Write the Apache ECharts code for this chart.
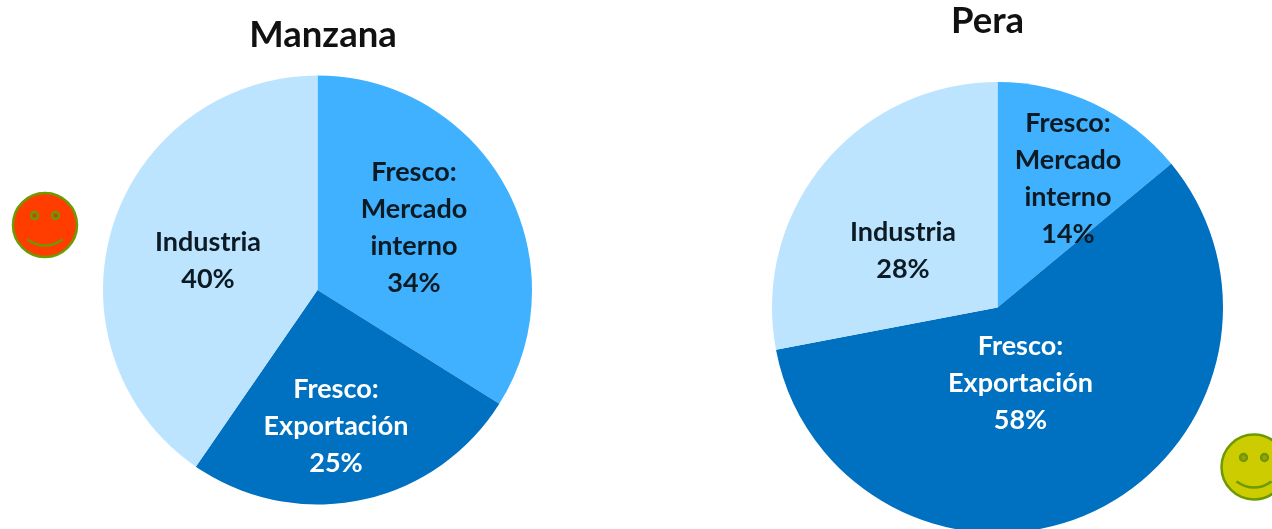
<!DOCTYPE html>
<html><head><meta charset="utf-8">
<style>html,body{margin:0;padding:0;background:#fff}#c{width:1272px;height:529px}</style>
<script src="https://cdn.jsdelivr.net/npm/echarts@6/dist/echarts.min.js"></script>
</head><body><div id="c"></div>
<script>
const categories = ['Fresco:\nMercado\ninterno', 'Fresco:\nExportación', 'Industria'];
const manzanaShares = [33.9, 25.7, 40.4];
const manzanaPercentLabels = ['34%', '25%', '40%'];
const peraShares = [14, 58, 28];
const peraPercentLabels = ['14%', '58%', '28%'];
const sliceColors = ['#3FB1FF', '#0070C0', '#BDE4FF'];
const labelColors = ['#0c1a24', '#ffffff', '#0c1a24'];
const manzanaLabelPos = [[414, 228], [336, 426], [208, 261]];
const peraLabelPos = [[1068, 179], [1020.5, 383], [903, 251]];
const font = 'Lato, "Open Sans", sans-serif';

function pie(name, values, percentLabels, center, radius, pos) {
  return {
    type: 'pie', name, center, radius, startAngle: 90, clockwise: true, silent: true,
    animation: false,
    data: categories.map((c, i) => ({
      name: c, value: values[i],
      itemStyle: { color: sliceColors[i] },
      label: { color: labelColors[i] }
    })),
    label: {
      show: true, position: 'inside', formatter: p => p.name + '\n' + percentLabels[p.dataIndex],
      fontFamily: font, fontWeight: 'bold', fontSize: 27, lineHeight: 37, align: 'center'
    },
    labelLine: { show: false },
    labelLayout: p => ({ x: pos[p.dataIndex][0], y: pos[p.dataIndex][1], align: 'center', verticalAlign: 'middle' })
  };
}
function smiley(cx, cy, r, fill, eye) {
  const stroke = '#6C9A00';
  return [
    { type: 'circle', shape: { cx, cy, r }, style: { fill, stroke, lineWidth: 2.5 } },
    { type: 'circle', shape: { cx: cx - 10.5, cy: cy - 9.5, r: 3.5 }, style: { fill: eye, stroke, lineWidth: 2.4 } },
    { type: 'circle', shape: { cx: cx + 10.5, cy: cy - 9.5, r: 3.5 }, style: { fill: eye, stroke, lineWidth: 2.4 } },
    { type: 'bezierCurve', shape: { x1: cx - 17.5, y1: cy + 14.5, cpx1: cx - 6, cpy1: cy + 22.5, cpx2: cx + 6, cpy2: cy + 22.5, x2: cx + 17.5, y2: cy + 14.5 }, style: { fill: 'none', stroke, lineWidth: 2.5 } }
  ];
}
const chart = echarts.init(document.getElementById('c'), null, { renderer: 'canvas' });
chart.setOption({
  animation: false,
  backgroundColor: '#ffffff',
  title: [
    { text: 'Manzana', left: 318, top: 12, textAlign: 'center', textStyle: { fontFamily: font, fontWeight: 'bold', fontSize: 36.5, color: '#111' } },
    { text: 'Pera', left: 982.5, top: -2, textAlign: 'center', textStyle: { fontFamily: font, fontWeight: 'bold', fontSize: 36.5, color: '#111' } }
  ],
  series: [
    pie('Manzana', manzanaShares, manzanaPercentLabels, [317.5, 290], 214.5, manzanaLabelPos),
    pie('Pera', peraShares, peraPercentLabels, [997.5, 307.5], 225.5, peraLabelPos)
  ],
  graphic: { elements: [...smiley(45, 225, 32, '#FF3D00', '#B8500A'), ...smiley(1254, 467, 32.5, '#CCCC00', '#A89A10')] }
});
</script></body></html>
